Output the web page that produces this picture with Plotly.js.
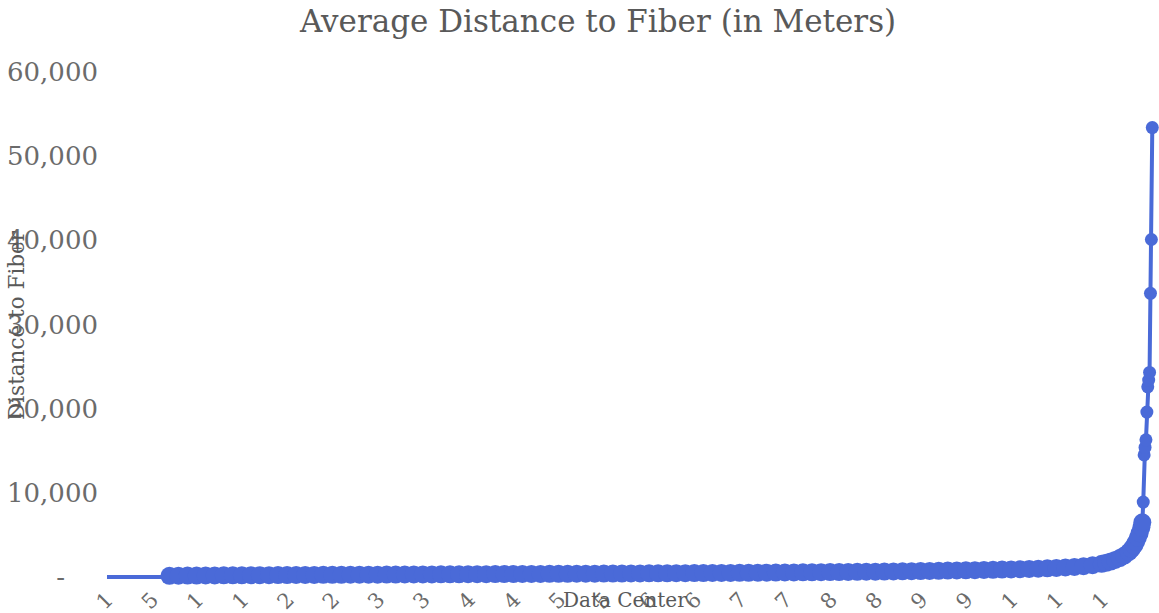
<!DOCTYPE html>
<html>
<head>
<meta charset="utf-8">
<script src="https://cdn.plot.ly/plotly-3.0.1.min.js"></script>
<style>html,body{margin:0;padding:0;background:#fff;}#chart{width:1159px;height:613px;}</style>
</head>
<body>
<div id="chart"></div>
<script>
// Data center rank (sorted by distance) and average distance to fiber, in meters
const startCenters = [1, 10, 20, 30, 40, 50, 60, 69];
const startDistance = [0, 0, 0, 0, 0, 0, 0, 0];

const bodyCenters = [
  70, 80, 90, 100, 110, 120, 130, 140, 150, 160,
  170, 180, 190, 200, 210, 220, 230, 240, 250, 260,
  270, 280, 290, 300, 310, 320, 330, 340, 350, 360,
  370, 380, 390, 400, 410, 420, 430, 440, 450, 460,
  470, 480, 490, 500, 510, 520, 530, 540, 550, 560,
  570, 580, 590, 600, 610, 620, 630, 640, 650, 660,
  670, 680, 690, 700, 710, 720, 730, 740, 750, 760,
  770, 780, 790, 800, 810, 820, 830, 840, 850, 860,
  870, 880, 890, 900, 910, 920, 930, 940, 950, 960,
  970, 980, 990, 1000, 1010, 1020, 1030, 1040, 1050, 1060,
  1070, 1080, 1090, 1100, 1105, 1110, 1115, 1120, 1125, 1130,
  1133, 1136, 1138, 1140, 1142, 1144, 1145
];
const bodyDistance = [
  140, 155, 165, 175, 180, 188, 195, 200, 206, 212,
  217, 222, 228, 233, 238, 243, 249, 254, 258, 263,
  268, 272, 277, 282, 287, 291, 296, 300, 305, 310,
  315, 319, 324, 329, 334, 338, 343, 348, 352, 357,
  362, 367, 372, 377, 382, 387, 392, 397, 402, 408,
  414, 420, 425, 431, 437, 443, 449, 455, 462, 468,
  475, 482, 489, 496, 503, 511, 519, 527, 535, 544,
  553, 562, 571, 581, 591, 602, 613, 625, 637, 650,
  663, 677, 692, 707, 723, 740, 758, 776, 795, 815,
  836, 858, 880, 905, 930, 960, 995, 1035, 1080, 1130,
  1200, 1290, 1400, 1560, 1680, 1830, 2020, 2250, 2550, 2950,
  3300, 3750, 4150, 4650, 5200, 5900, 6500
];

const tailCenters = [1146, 1147, 1148, 1149, 1150, 1151, 1152, 1153, 1154, 1155, 1156];
const tailDistance = [8900, 14500, 15400, 16300, 19600, 22600, 23400, 24300, 33700, 40100, 53400];

const xTickVals = [1, 51, 101, 151, 201, 251, 301, 351, 401, 451, 501, 551, 601, 651, 701, 751, 801, 851, 901, 951, 1001, 1051, 1101];
const xTickText = ["1", "5", "1", "1", "2", "2", "3", "3", "4", "4", "5", "5", "6", "6", "7", "7", "8", "8", "9", "9", "1", "1", "1"];
const yTickVals = [0, 10000, 20000, 30000, 40000, 50000, 60000];
const yTickText = ["-\u00a0\u00a0\u00a0\u00a0", "10,000", "20,000", "30,000", "40,000", "50,000", "60,000"];

const xs = startCenters.concat(bodyCenters, tailCenters);
const ys = startDistance.concat(bodyDistance, tailDistance);
const sizes = ys.map(v => v === 0 ? 0 : (v > 8000 ? 13 : 18));

const blue = '#4a6ad8';
const gray = '#6b6b6b';
const serif = 'DejaVu Serif, serif';

const trace = {
  x: xs, y: ys, type: 'scatter', mode: 'lines+markers',
  line: {color: blue, width: 4},
  marker: {color: blue, size: sizes, opacity: 1, line: {width: 0}},
  cliponaxis: false,
  hoverinfo: 'x+y'
};

const plotBottom = 582;
const zeroY = 577;
const pxPerUnit = 84.17 / 10000;
const plotTop = 60;

const layout = {
  width: 1159, height: 613,
  margin: {l: 103, r: 3, t: plotTop, b: 613 - plotBottom},
  paper_bgcolor: '#fff', plot_bgcolor: '#fff',
  showlegend: false,
  title: {
    text: 'Average Distance to Fiber (in Meters)',
    font: {family: serif, size: 31, color: '#595959'},
    x: 0.516, xref: 'container', xanchor: 'center',
    y: 1 - 21 / 613, yref: 'container', yanchor: 'middle'
  },
  xaxis: {
    range: [-3.4, 1160.1],
    showgrid: false, zeroline: false, showline: false, ticks: '',
    tickmode: 'array', tickvals: xTickVals, ticktext: xTickText,
    tickangle: -45,
    tickfont: {family: serif, size: 21, color: gray},
    ticklabelstandoff: 0
  },
  yaxis: {
    range: [-(plotBottom - zeroY) / pxPerUnit, (zeroY - plotTop) / pxPerUnit],
    showgrid: false, zeroline: false, showline: false, ticks: '',
    tickmode: 'array', tickvals: yTickVals, ticktext: yTickText,
    tickfont: {family: serif, size: 26, color: gray},
    ticklabelstandoff: 4
  },
  annotations: [
    {text: 'Distance to Fiber', xref: 'paper', yref: 'paper',
     x: (16 - 103) / 1053, y: (plotBottom - 325) / (plotBottom - plotTop), xanchor: 'center', yanchor: 'middle',
     textangle: -90, showarrow: false, font: {family: serif, size: 21.5, color: '#595959'}},
    {text: 'Data Center', xref: 'paper', yref: 'paper',
     x: (625 - 103) / 1053, y: -(600 - plotBottom) / (plotBottom - plotTop), xanchor: 'center', yanchor: 'middle',
     showarrow: false, font: {family: serif, size: 20, color: '#595959'}}
  ]
};

Plotly.newPlot('chart', [trace], layout, {displayModeBar: false, staticPlot: true});
</script>
</body>
</html>
